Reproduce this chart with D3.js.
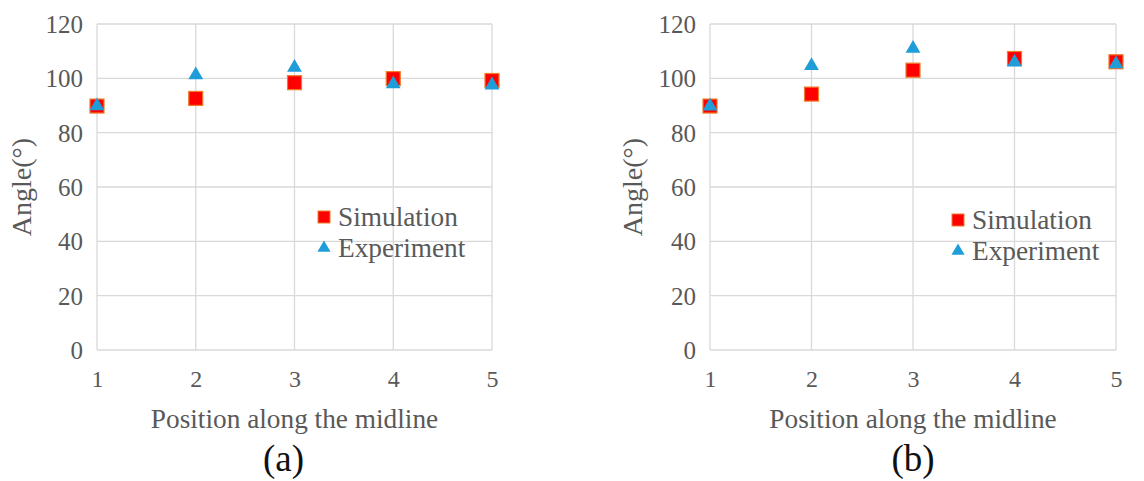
<!DOCTYPE html>
<html><head><meta charset="utf-8">
<script src="https://cdn.jsdelivr.net/npm/d3@7"></script>
<style>body{margin:0;background:#fff}svg{display:block}svg text{font-family:'Liberation Serif','Times New Roman',serif}</style>
</head><body>
<svg id="c" width="1144" height="481"></svg>
<script>
const positions = [1, 2, 3, 4, 5];
const yTicks = [0, 20, 40, 60, 80, 100, 120];
const simA = [89.8, 92.6, 98.4, 99.9, 99.2];
const expA = [89.8, 101.2, 104.0, 97.9, 97.5];
const simB = [89.8, 94.2, 103.0, 107.3, 106.1];
const expB = [89.7, 104.6, 111.0, 105.9, 105.3];
const seriesNames = ["Simulation", "Experiment"];
const panelLabels = ["(a)", "(b)"];

const svg = d3.select("#c");
const FONT = "'Liberation Serif', 'Times New Roman', serif";
const TXT = "#595959";
const RED = "#FF0000", RED_EDGE = "#F07C2C", BLUE = "#1F9DD9";

const panels = [
  {left: 97, right: 492, sim: simA, exp: expA, label: panelLabels[0], ytitleX: 22, legX: 324, legY: 217, labOff: -11},
  {left: 710, right: 1116, sim: simB, exp: expB, label: panelLabels[1], ytitleX: 633, legX: 958, legY: 220, labOff: 0}
];
const plotTop = 24, plotBottom = 350;

panels.forEach(p => {
  const g = svg.append("g");
  const x = d3.scaleLinear().domain([1, 5]).range([p.left, p.right]);
  const y = d3.scaleLinear().domain([0, 120]).range([plotBottom, plotTop]);

  g.append("g").selectAll("line").data(yTicks).join("line")
    .attr("x1", p.left).attr("x2", p.right)
    .attr("y1", d => y(d)).attr("y2", d => y(d))
    .attr("stroke", "#D9D9D9").attr("stroke-width", 1.3);
  g.append("g").selectAll("line").data(positions).join("line")
    .attr("x1", d => x(d)).attr("x2", d => x(d))
    .attr("y1", plotTop).attr("y2", plotBottom)
    .attr("stroke", "#D9D9D9").attr("stroke-width", 1.3);

  const ya = g.append("g").attr("transform", `translate(${p.left - 14},0)`)
    .call(d3.axisLeft(y).tickValues(yTicks).tickSize(0).tickPadding(0));
  ya.attr("font-family", FONT).attr("font-size", 25);
  ya.select(".domain").remove();
  ya.selectAll("text").style("font-family", FONT).style("font-size", "25px").attr("fill", TXT).attr("dy", "0.34em");

  const xa = g.append("g").attr("transform", `translate(0,387)`)
    .call(d3.axisBottom(x).tickValues(positions).tickFormat(d3.format("d")).tickSize(0).tickPadding(0));
  xa.attr("font-family", FONT).attr("font-size", 24);
  xa.select(".domain").remove();
  xa.selectAll("text").style("font-family", FONT).style("font-size", "24px").attr("fill", TXT).attr("y", 0).attr("dy", "0");

  const cx = (p.left + p.right) / 2;
  g.append("text").attr("x", cx).attr("y", 428).attr("text-anchor", "middle")
    .attr("font-family", FONT).attr("font-size", 27.3).attr("fill", TXT)
    .text("Position along the midline");
  g.append("text").attr("transform", `translate(${p.ytitleX + 9},${(plotTop + plotBottom) / 2}) rotate(-90)`)
    .attr("text-anchor", "middle").attr("font-family", FONT).attr("font-size", 28).attr("fill", TXT)
    .text("Angle(°)");
  g.append("text").attr("x", cx + p.labOff).attr("y", 471).attr("text-anchor", "middle")
    .attr("font-family", FONT).attr("font-size", 37).attr("fill", "#111")
    .text(p.label);

  const sq = 14;
  g.append("g").selectAll("rect").data(p.sim).join("rect")
    .attr("x", (d, i) => x(positions[i]) - sq / 2).attr("y", d => y(d) - sq / 2)
    .attr("width", sq).attr("height", sq)
    .attr("fill", RED).attr("stroke", RED_EDGE).attr("stroke-width", 1.2);
  const tri = d3.symbol().type(d3.symbolTriangle).size(95);
  g.append("g").selectAll("path").data(p.exp).join("path")
    .attr("transform", (d, i) => `translate(${x(positions[i])},${y(d)})`)
    .attr("d", tri).attr("fill", BLUE);

  const lg = g.append("g").attr("transform", `translate(${p.legX},${p.legY})`);
  lg.append("rect").attr("x", -6).attr("y", -6).attr("width", 12).attr("height", 12)
    .attr("fill", RED).attr("stroke", RED_EDGE).attr("stroke-width", 1);
  lg.append("text").attr("x", 14).attr("y", 0).attr("dy", "0.34em")
    .attr("font-family", FONT).attr("font-size", 27.3).attr("fill", TXT).text(seriesNames[0]);
  lg.append("path").attr("transform", "translate(0,31)").attr("d", d3.symbol().type(d3.symbolTriangle).size(75)).attr("fill", BLUE);
  lg.append("text").attr("x", 14).attr("y", 31).attr("dy", "0.34em")
    .attr("font-family", FONT).attr("font-size", 27.3).attr("fill", TXT).text(seriesNames[1]);
});
</script>
</body></html>
